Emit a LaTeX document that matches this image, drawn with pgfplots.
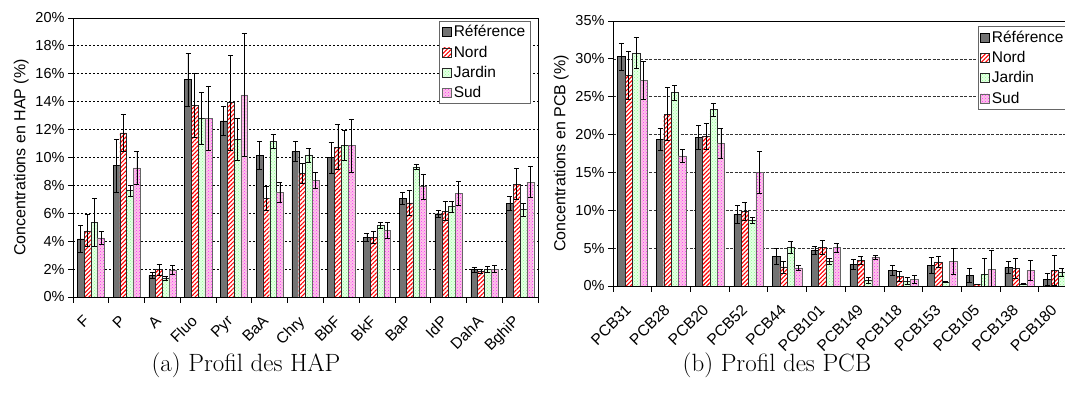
\documentclass[border=0pt]{standalone}
\usepackage{pgfplots}
\pgfplotsset{compat=1.18}
\usepackage{fontspec}
\newfontfamily\arial{Liberation Sans}
\usetikzlibrary{patterns,patterns.meta}

\pgfplotsset{
  ref/.style={draw=black, fill=black!55},
  nord/.style={draw=black!85, fill=white,
    postaction={pattern={Lines[angle=45,distance=3pt,line width=1.1pt]}, pattern color=red}},
  jardin/.style={draw=black!85, fill=green!10,
    postaction={pattern=crosshatch dots, pattern color=green!45}},
  sud/.style={draw=black!60, fill=magenta!22,
    postaction={pattern=crosshatch dots, pattern color=magenta!85}},
  profil/.style={
    scale only axis,
    ybar=0pt, bar width=0.19,
    ymin=0,
    axis line style={black, line width=0.8pt},
    tick align=outside,
    xtick pos=bottom, ytick pos=left,
    major tick length=5pt, minor tick length=6pt,
    major x tick style={draw=none},
    minor x tick style={black, line width=0.8pt},
    y tick style={black, line width=0.8pt},
    ymajorgrids,
    /pgf/number format/assume math mode=true,
    yticklabel={\pgfmathprintnumber{\tick}\%},
    y tick label style={font=\fontsize{14.5}{16}\selectfont\arial},
    x tick label style={font=\fontsize{15.5}{17}\selectfont\arial,
      xshift=-8pt, yshift=-11pt, rotate=45, anchor=north east, inner sep=1pt},
    ylabel style={font=\fontsize{16}{18}\selectfont\arial},
    legend style={anchor=north east, draw=black!60, line width=0.6pt,
      font=\fontsize{15.5}{17}\selectfont\arial, row sep=3.5pt, inner sep=2.5pt,
      cells={anchor=west}},
    legend image code/.code={\draw[#1] (0pt,-4.5pt) rectangle (9pt,4.5pt);},
    error bars/y dir=both,
    error bars/y explicit,
    error bars/error bar style={black, line width=0.6pt},
    error bars/error mark options={black, line width=0.6pt, mark size=2.5pt, rotate=90},
  },
}

\begin{document}
\begin{tikzpicture}
\useasboundingbox (0,0) rectangle (1065pt,403pt);

% (a) HAP
\begin{axis}[profil,
  at={(73pt,106pt)}, anchor=south west,
  width=465pt, height=279pt,
  xmin=-0.5, xmax=12.5, ymax=20,
  ytick={0,2,...,20},
  xtick={0,...,12},
  xticklabels={F,P,A,Fluo,Pyr,BaA,Chry,BbF,BkF,BaP,IdP,DahA,BghiP},
  minor xtick={-0.5,0.5,...,12.5},
  grid style={black, line width=0.9pt, dash pattern=on 2pt off 2pt},
  ylabel={Concentrations en HAP (\%)},
  legend style={at={(rel axis cs:0.983,0.99)}},
]
\addplot[ref] coordinates {
 (0,4.16) +- (0,0.95) (1,9.44) +- (0,1.9) (2,1.55) +- (0,0.2) (3,15.58) +- (0,1.9)
 (4,12.62) +- (0,1.05) (5,10.16) +- (0,1.0) (6,10.44) +- (0,0.7) (7,10.0) +- (0,1.1)
 (8,4.28) +- (0,0.3) (9,7.07) +- (0,0.45) (10,5.97) +- (0,0.25) (11,1.96) +- (0,0.17)
 (12,6.71) +- (0,0.5)};
\addlegendentry{Référence}
\addplot[nord] coordinates {
 (0,4.75) +- (0,1.15) (1,11.76) +- (0,1.35) (2,1.96) +- (0,0.4) (3,13.76) +- (0,2.3)
 (4,13.93) +- (0,3.4) (5,7.05) +- (0,0.85) (6,8.86) +- (0,0.7) (7,10.75) +- (0,1.6)
 (8,4.28) +- (0,0.45) (9,6.74) +- (0,0.9) (10,6.16) +- (0,0.67) (11,1.84) +- (0,0.15)
 (12,8.1) +- (0,1.1)};
\addlegendentry{Nord}
\addplot[jardin] coordinates {
 (0,5.35) +- (0,1.7) (1,7.62) +- (0,0.4) (2,1.34) +- (0,0.15) (3,12.83) +- (0,1.85)
 (4,11.3) +- (0,1.5) (5,11.18) +- (0,0.5) (6,10.18) +- (0,0.5) (7,10.87) +- (0,1.1)
 (8,5.16) +- (0,0.2) (9,9.34) +- (0,0.2) (10,6.48) +- (0,0.4) (11,2.0) +- (0,0.2)
 (12,6.26) +- (0,0.45)};
\addlegendentry{Jardin}
\addplot[sud] coordinates {
 (0,4.23) +- (0,0.45) (1,9.25) +- (0,1.2) (2,1.94) +- (0,0.33) (3,12.83) +- (0,2.3)
 (4,14.48) +- (0,4.4) (5,7.5) +- (0,0.7) (6,8.36) +- (0,0.6) (7,10.87) +- (0,1.9)
 (8,4.78) +- (0,0.57) (9,7.93) +- (0,0.9) (10,7.43) +- (0,0.84) (11,2.0) +- (0,0.25)
 (12,8.24) +- (0,1.1)};
\addlegendentry{Sud}
\end{axis}

% (b) PCB
\begin{axis}[profil,
  at={(613pt,117pt)}, anchor=south west,
  width=464.5pt, height=265pt,
  xmin=-0.5, xmax=11.5, ymax=35,
  ytick={0,5,...,35},
  xtick={0,...,11},
  xticklabels={PCB31,PCB28,PCB20,PCB52,PCB44,PCB101,PCB149,PCB118,PCB153,PCB105,PCB138,PCB180},
  minor xtick={-0.5,0.5,...,11.5},
  grid style={black!80, line width=0.6pt, dash pattern=on 3pt off 1.5pt},
  ylabel={Concentrations en PCB (\%)},
  legend style={at={(rel axis cs:0.98,0.98)}},
]
\addplot[ref] coordinates {
 (0,30.3) +- (0,1.8) (1,19.37) +- (0,1.45) (2,19.64) +- (0,1.55) (3,9.47) +- (0,1.2)
 (4,3.92) +- (0,1.0) (5,4.71) +- (0,0.55) (6,2.9) +- (0,0.65) (7,2.03) +- (0,0.65)
 (8,2.73) +- (0,1.05) (9,1.41) +- (0,0.9) (10,2.47) +- (0,0.75) (11,0.88) +- (0,0.8)};
\addlegendentry{Référence}
\addplot[nord] coordinates {
 (0,27.8) +- (0,3.2) (1,22.68) +- (0,3.5) (2,19.77) +- (0,1.7) (3,9.9) +- (0,1.2)
 (4,2.51) +- (0,0.8) (5,5.1) +- (0,0.95) (6,3.43) +- (0,0.5) (7,1.28) +- (0,0.6)
 (8,3.17) +- (0,0.75) (9,0.22) +- (0,0) (10,2.33) +- (0,1.3) (11,2.03) +- (0,2.0)};
\addlegendentry{Nord}
\addplot[jardin] coordinates {
 (0,30.8) +- (0,2.0) (1,25.54) +- (0,1.0) (2,23.3) +- (0,0.85) (3,8.67) +- (0,0.4)
 (4,5.1) +- (0,0.75) (5,3.26) +- (0,0.4) (6,0.7) +- (0,0.4) (7,0.66) +- (0,0.45)
 (8,0.53) +- (0,0.1) (9,1.54) +- (0,2.1) (10,0.3) +- (0,0.1) (11,1.8) +- (0,0.5)};
\addlegendentry{Jardin}
\addplot[sud] coordinates {
 (0,27.2) +- (0,2.5) (1,17.2) +- (0,0.85) (2,18.8) +- (0,2.0) (3,15.0) +- (0,2.75)
 (4,2.4) +- (0,0.3) (5,5.1) +- (0,0.6) (6,3.79) +- (0,0.3) (7,0.92) +- (0,0.5)
 (8,3.26) +- (0,1.7) (9,2.2) +- (0,2.55) (10,2.11) +- (0,1.3) (11,1.5) +- (0,0.5)};
\addlegendentry{Sud}
\end{axis}

\node[font=\fontsize{25}{28}\selectfont] at (246pt,38pt) {(a) Profil des HAP};
\node[font=\fontsize{25}{28}\selectfont] at (777pt,38pt) {(b) Profil des PCB};
\end{tikzpicture}
\end{document}
